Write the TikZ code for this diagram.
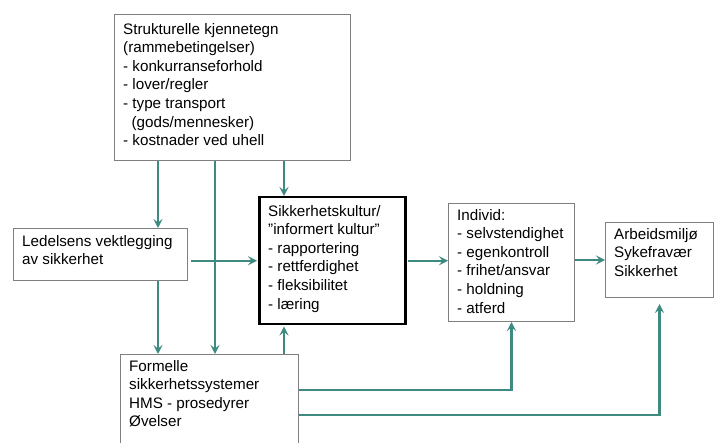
\documentclass[tikz,border=0pt]{standalone}
\usepackage{fontspec}
\setmainfont{Liberation Sans}
\usetikzlibrary{arrows.meta,calc}
\definecolor{teal1}{HTML}{3F8A80}
\definecolor{boxgray}{HTML}{7F7F7F}
\begin{document}
\begin{tikzpicture}[x=1pt,y=-1pt,
  box/.style={draw=boxgray,line width=1pt,rectangle,anchor=north west,inner sep=0pt},
  kbox/.style={draw=black,line width=2.5pt,rectangle,anchor=north west,inner sep=0pt},
  txt/.style={anchor=north west,align=left,inner sep=0pt,font=\fontsize{15.2}{18.6}\selectfont,execute at begin node=\strut,yshift=13.02pt},
  arr/.style={draw=teal1,line width=2.2pt,-{Stealth[length=9pt,width=9pt,inset=3.5pt]}},
  ln/.style={draw=teal1,line width=2.2pt}]
\useasboundingbox (0,0) rectangle (718,443);
\fill[white] (0,0) rectangle (718,443);
% boxes
\node[box,minimum width=236pt,minimum height=146pt] (top) at (114,14) {};
\node[txt] (toptxt) at (123,36) {Strukturelle kjennetegn\\(rammebetingelser)\\- konkurranseforhold\\- lover/regler\\- type transport\\\ \ (gods/mennesker)\\- kostnader ved uhell};
\node[box,minimum width=174pt,minimum height=52pt] (led) at (13,228) {};
\node[txt] (ledtxt) at (22,248) {Ledelsens vektlegging\\av sikkerhet};
\node[kbox,minimum width=146pt,minimum height=127pt] (sik) at (258,196) {};
\node[txt] (siktxt) at (268,218) {Sikkerhetskultur/\\”informert kultur”\\- rapportering\\- rettferdighet\\- fleksibilitet\\- læring};
\node[box,minimum width=126pt,minimum height=118pt] (ind) at (448,203) {};
\node[txt] (indtxt) at (457,222) {Individ:\\- selvstendighet\\- egenkontroll\\- frihet/ansvar\\- holdning\\- atferd};
\node[box,minimum width=108pt,minimum height=75pt] (arb) at (605,222) {};
\node[txt] (arbtxt) at (614,241) {Arbeidsmiljø\\Sykefravær\\Sikkerhet};
\node[box,minimum width=178pt,minimum height=110pt] (form) at (120,354) {};
\node[txt] (formtxt) at (129,373) {Formelle\\sikkerhetssystemer\\HMS - prosedyrer\\Øvelser};
% helper coordinates
\coordinate (xa) at (158,0);
\coordinate (xb) at (215,0);
\coordinate (xc) at (284,0);
\coordinate (ya) at (0,390);
\coordinate (yb) at (0,415);
% connectors
\draw[arr] (top.south -| xa) -- (led.north -| xa);
\draw[arr] (top.south -| xb) -- (form.north -| xb);
\draw[arr] (top.south -| xc) -- (sik.north -| xc);
\draw[arr] (led.south -| xa) -- (form.north -| xa);
\draw[arr] (form.north -| xc) -- ([yshift=-1pt]sik.south -| xc);
\draw[arr] ([xshift=3pt]led.east |- sik.west) -- ([xshift=-1pt]sik.west);
\draw[arr] ([xshift=1pt]sik.east) -- (sik.east -| ind.west);
\draw[arr] (ind.east |- arb.west) -- (arb.west);
\draw[arr] (form.east |- ya) -| (ind.south);
\draw[arr,shorten >=6pt] (form.east |- yb) -| (arb.south);
\end{tikzpicture}
\end{document}
